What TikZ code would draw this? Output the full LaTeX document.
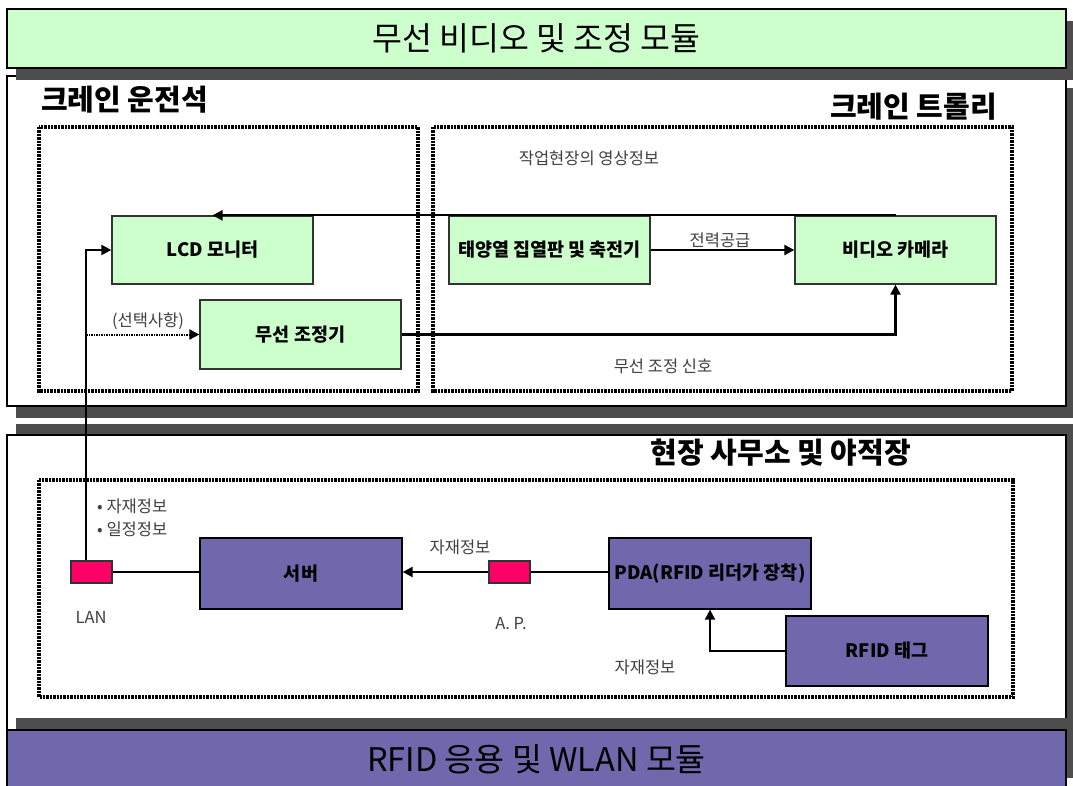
\documentclass[tikz,border=0pt]{standalone}
\usepackage{fontspec}
\setmainfont{Noto Sans CJK KR}
\usetikzlibrary{arrows.meta,calc}
\definecolor{lgreen}{HTML}{CCFFCC}
\definecolor{rpurple}{HTML}{7167AC}
\definecolor{rpink}{HTML}{FF0066}
\definecolor{shade}{HTML}{4D4D4D}
\definecolor{lbl}{HTML}{404040}
\tikzset{
  panel/.style={draw=black, line width=1.3pt, fill=white},
  shadowrect/.style={fill=shade},
  banner/.style={draw=black, line width=1.3pt, minimum width=1059pt, minimum height=59pt, inner sep=0pt, font=\fontsize{32.5}{36}\selectfont},
  paneltitle/.style={inner sep=0pt, font=\bfseries\fontsize{29}{33}\selectfont},
  dotbox/.style={line width=3.4pt, dash pattern=on 2.4pt off 1pt},
  gbox/.style={draw=black!80, line width=1.3pt, fill=lgreen, inner sep=0pt, font=\bfseries\fontsize{18.5}{21}\selectfont},
  pbox/.style={draw=black, line width=1.3pt, fill=rpurple, inner sep=0pt, font=\bfseries\fontsize{18.5}{21}\selectfont},
  port/.style={draw=black!80, line width=1.3pt, fill=rpink, inner sep=0pt, minimum width=41pt, minimum height=22pt},
  lab/.style={inner sep=0pt, text=lbl, font=\fontsize{16.5}{19}\selectfont},
  conn/.style={line width=2.2pt, draw=black},
  dconn/.style={line width=2pt, draw=black, dash pattern=on 1.5pt off 1pt},
  tip/.style={-{Triangle[length=10pt,width=10pt]}},
}
\begin{document}
\begin{tikzpicture}[x=1pt,y=-1pt]
\useasboundingbox (0,0) rectangle (1073,786);
\fill[white] (0,0) rectangle (1073,786);

% upper panel (crane)
\fill[shadowrect] (16,88) rectangle (1073,418);
\draw[panel] (7,76) rectangle (1066,406);
% top banner
\fill[shadowrect] (16,21) rectangle (1073,80);
\node[banner, fill=lgreen] (topban) at (536.5,38.5) {\raisebox{-2pt}{무선 비디오 및 조정 모듈}};

% lower panel (site office)
\fill[shadowrect] (16,424) rectangle (1073,719);
\draw[panel] (7,435) rectangle (1066,730);
% bottom banner
\fill[shadowrect] (16,718) rectangle (1073,778);
\node[banner, fill=rpurple] (botban) at (536.5,759.5) {\raisebox{-3.5pt}{RFID 응용 및 WLAN 모듈}};

% titles
\node[paneltitle, anchor=west] (t1) at (41,100) {크레인 운전석};
\node[paneltitle, anchor=east] (t2) at (997,107) {크레인 트롤리};
\node[paneltitle] (t3) at (781,453) {현장 사무소 및 야적장};

% dotted areas
\draw[dotbox] (39,127) rectangle (418,391);
\draw[dotbox] (433,127) rectangle (1012,391);
\draw[dotbox] (39,480) rectangle (1013,697);

% crane boxes
\node[gbox, minimum width=201pt, minimum height=68pt] (lcd) at (212.5,250) {LCD 모니터};
\node[gbox, minimum width=201pt, minimum height=69pt] (ctrl) at (300.5,334.5) {무선 조정기};
\node[gbox, minimum width=201pt, minimum height=68pt] (solar) at (549.5,250) {태양열 집열판 및 축전기};
\node[gbox, minimum width=201pt, minimum height=68pt] (cam) at (895.5,250) {비디오 카메라};

% site boxes
\node[pbox, minimum width=202pt, minimum height=71pt] (server) at (301,573.5) {서버};
\node[pbox, minimum width=202pt, minimum height=71pt] (pda) at (710,573.5) {PDA(RFID 리더가 장착)};
\node[pbox, minimum width=202pt, minimum height=70pt] (tag) at (887,651) {RFID 태그};
\node[port] (lan) at (91.5,572) {};
\node[port] (ap) at (509.5,572) {};

% labels
\node[lab] (l1) at (589,158) {작업현장의 영상정보};
\node[lab] (l2) at (720,240) {전력공급};
\node[lab] (l3) at (663,366) {무선 조정 신호};
\node[lab] (l4) at (148,321) {(선택사항)};
\node[lab, anchor=west] (l5) at (97,506) {• 자재정보};
\node[lab, anchor=west] (l6) at (97,529) {• 일정정보};
\node[lab] (l7) at (91,617) {LAN};
\node[lab] (l8) at (460,547) {자재정보};
\node[lab] (l9) at (511,624) {A. P.};
\node[lab] (l10) at (645,667) {자재정보};

% connectors
\draw[conn, tip] (cam.north) -- (lcd.north);
\draw[conn, tip] (solar.east) -- (cam.west);
\draw[conn, tip] (ctrl.east) -| (cam.south);
\draw[conn, tip] ([xshift=-5.5pt]lan.north) |- (lcd.west);
\coordinate (sel) at (86,334.5);
\draw[dconn, tip] (sel) -- (ctrl.west);
\draw[conn] (lan.east) -- (lan.east -| server.west);
\draw[conn, tip] (ap.west) -- (ap.west -| server.east);
\draw[conn] (ap.east) -- (ap.east -| pda.west);
\draw[conn, tip] (tag.west) -| (pda.south);
\end{tikzpicture}
\end{document}
